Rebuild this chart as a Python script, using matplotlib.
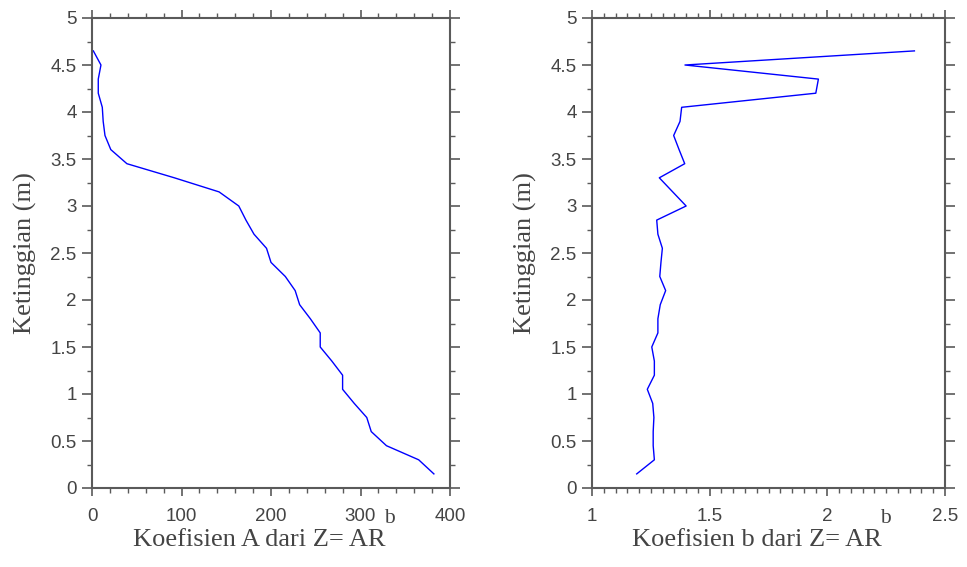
import matplotlib
matplotlib.use("Agg")
import matplotlib.pyplot as plt
from matplotlib.ticker import MultipleLocator, FuncFormatter

heights = [0.15, 0.30, 0.45, 0.60, 0.75, 0.90, 1.05, 1.20, 1.35, 1.50, 1.65,
           1.80, 1.95, 2.10, 2.25, 2.40, 2.55, 2.70, 2.85, 3.00, 3.15, 3.30,
           3.45, 3.60, 3.75, 3.90, 4.05, 4.20, 4.35, 4.50, 4.65]
coef_A = [382, 365, 329, 312, 307, 293, 280, 280, 268, 255, 255,
          244, 232, 227, 216, 200, 195, 181, 172, 164, 142, 92,
          39, 21, 14.5, 12.5, 11.5, 7, 7, 10, 1.5]
coef_b = [1.19, 1.265, 1.26, 1.26, 1.263, 1.258, 1.235, 1.265, 1.265, 1.254, 1.28,
          1.28, 1.29, 1.313, 1.288, 1.293, 1.299, 1.28, 1.275, 1.40, 1.343, 1.286,
          1.394, 1.37, 1.347, 1.374, 1.381, 1.951, 1.962, 1.395, 2.37]

ylabel = "Ketinggian (m)"
xlabel_A = "Koefisien A dari Z= AR"
xlabel_b = "Koefisien b dari Z= AR"
label_sup = "b"

tick_font = "Liberation Sans"
label_font = "Liberation Serif"

fig = plt.figure(figsize=(9.67, 5.67), dpi=100)
axA = fig.add_axes([92/967, 1-488/567, 358/967, 470/567])
axB = fig.add_axes([592/967, 1-488/567, 353/967, 470/567])

spine_col = "#5a5a5a"
text_col = "#444444"
fmt = FuncFormatter(lambda v, p: f"{v:g}")

def style(ax, xmaj, xmin, xlabel, width_px):
    ax.set_ylim(0, 5)
    ax.yaxis.set_major_locator(MultipleLocator(0.5))
    ax.yaxis.set_minor_locator(MultipleLocator(0.25))
    ax.xaxis.set_major_locator(MultipleLocator(xmaj))
    ax.xaxis.set_minor_locator(MultipleLocator(xmin))
    ax.xaxis.set_major_formatter(fmt)
    ax.yaxis.set_major_formatter(fmt)
    ax.tick_params(which="both", direction="out", top=True, right=True,
                   colors=spine_col, labelcolor=text_col)
    ax.tick_params(axis="x", which="major", length=6, width=1.2, pad=8.5, labelsize=13.5)
    ax.tick_params(axis="y", which="major", length=7, width=1.2, pad=4, labelsize=13.5)
    ax.tick_params(which="minor", length=3.3, width=1.0)
    for lab in ax.get_xticklabels() + ax.get_yticklabels():
        lab.set_fontfamily(tick_font)
    for s in ax.spines.values():
        s.set_color(spine_col)
        s.set_linewidth(1.5)
    ax.set_ylabel(ylabel, fontfamily=label_font, fontsize=19, color=text_col)
    ax.yaxis.set_label_coords(-55/width_px, 0.5)
    ax.set_xlabel(xlabel, fontfamily=label_font, fontsize=19, color=text_col)
    ax.xaxis.set_label_coords(0.466, -41/470)
    ax.annotate(label_sup, xy=(1.0, 1.0), xycoords=ax.xaxis.label,
                xytext=(-1.0, 4.0), textcoords="offset points",
                ha="left", va="baseline", fontfamily=label_font,
                fontsize=15.5, color=text_col)

axA.plot(coef_A, heights, color="blue", lw=1.0)
axA.set_xlim(0, 400)
style(axA, 100, 20, xlabel_A, 358)

axB.plot(coef_b, heights, color="blue", lw=1.0)
axB.set_xlim(1, 2.5)
style(axB, 0.5, 0.05, xlabel_b, 353)

fig.savefig("out.png", dpi=100)
